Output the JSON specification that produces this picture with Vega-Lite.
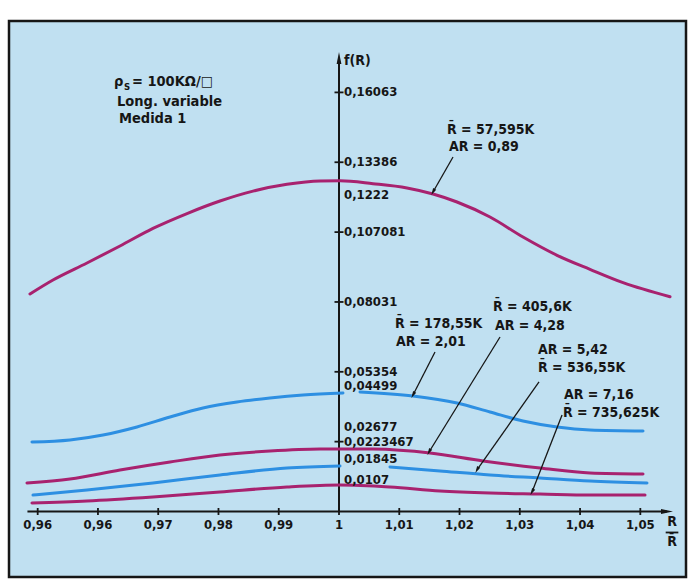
{
  "$schema": "https://vega.github.io/schema/vega-lite/v6.json",
  "width": 677,
  "height": 556,
  "autosize": {"type": "none"},
  "padding": {"left": 9, "top": 21, "right": 5, "bottom": 8},
  "background": "#ffffff",
  "config": {
    "view": {"fill": "#c0e0f1", "stroke": "#161616", "strokeWidth": 2.5},
    "text": {"font": "DejaVu Sans Condensed", "fontWeight": "bold", "fontSize": 13, "color": "#161616", "baseline": "middle"}
  },
  "datasets": {
    "curves": [
      {"s": "c1", "g": "c1", "x": 0.94872, "y": 0.08337},
      {"s": "c1", "g": "c1", "x": 0.95254, "y": 0.08873},
      {"s": "c1", "g": "c1", "x": 0.95818, "y": 0.09525},
      {"s": "c1", "g": "c1", "x": 0.96366, "y": 0.10176},
      {"s": "c1", "g": "c1", "x": 0.96913, "y": 0.1085},
      {"s": "c1", "g": "c1", "x": 0.97478, "y": 0.1142},
      {"s": "c1", "g": "c1", "x": 0.98025, "y": 0.119},
      {"s": "c1", "g": "c1", "x": 0.98573, "y": 0.1228},
      {"s": "c1", "g": "c1", "x": 0.99137, "y": 0.1254},
      {"s": "c1", "g": "c1", "x": 0.99685, "y": 0.12668},
      {"s": "c1", "g": "c1", "x": 1.00017, "y": 0.12675},
      {"s": "c1", "g": "c1", "x": 1.00564, "y": 0.12563},
      {"s": "c1", "g": "c1", "x": 1.01128, "y": 0.12399},
      {"s": "c1", "g": "c1", "x": 1.0156, "y": 0.12169},
      {"s": "c1", "g": "c1", "x": 1.01958, "y": 0.11863},
      {"s": "c1", "g": "c1", "x": 1.02506, "y": 0.11288},
      {"s": "c1", "g": "c1", "x": 1.03053, "y": 0.10521},
      {"s": "c1", "g": "c1", "x": 1.03618, "y": 0.0982},
      {"s": "c1", "g": "c1", "x": 1.04165, "y": 0.0928},
      {"s": "c1", "g": "c1", "x": 1.04713, "y": 0.0877},
      {"s": "c1", "g": "c1", "x": 1.05493, "y": 0.0823},
      {"s": "c2", "g": "c2a", "x": 0.94905, "y": 0.02664},
      {"s": "c2", "g": "c2a", "x": 0.95536, "y": 0.02741},
      {"s": "c2", "g": "c2a", "x": 0.96084, "y": 0.02932},
      {"s": "c2", "g": "c2a", "x": 0.96648, "y": 0.03239},
      {"s": "c2", "g": "c2a", "x": 0.97196, "y": 0.03622},
      {"s": "c2", "g": "c2a", "x": 0.97743, "y": 0.03967},
      {"s": "c2", "g": "c2a", "x": 0.98307, "y": 0.04197},
      {"s": "c2", "g": "c2a", "x": 0.98855, "y": 0.0435},
      {"s": "c2", "g": "c2a", "x": 0.99403, "y": 0.04465},
      {"s": "c2", "g": "c2a", "x": 1.00066, "y": 0.04542},
      {"s": "c2", "g": "c2b", "x": 1.00348, "y": 0.0458},
      {"s": "c2", "g": "c2b", "x": 1.01228, "y": 0.04427},
      {"s": "c2", "g": "c2b", "x": 1.01958, "y": 0.04159},
      {"s": "c2", "g": "c2b", "x": 1.02506, "y": 0.03814},
      {"s": "c2", "g": "c2b", "x": 1.03053, "y": 0.03469},
      {"s": "c2", "g": "c2b", "x": 1.03618, "y": 0.03239},
      {"s": "c2", "g": "c2b", "x": 1.04165, "y": 0.03124},
      {"s": "c2", "g": "c2b", "x": 1.05045, "y": 0.03086},
      {"s": "c3", "g": "c3", "x": 0.94822, "y": 0.01092},
      {"s": "c3", "g": "c3", "x": 0.95536, "y": 0.01246},
      {"s": "c3", "g": "c3", "x": 0.96366, "y": 0.01591},
      {"s": "c3", "g": "c3", "x": 0.97196, "y": 0.01897},
      {"s": "c3", "g": "c3", "x": 0.98025, "y": 0.02166},
      {"s": "c3", "g": "c3", "x": 0.98855, "y": 0.02319},
      {"s": "c3", "g": "c3", "x": 0.99685, "y": 0.02396},
      {"s": "c3", "g": "c3", "x": 1.00183, "y": 0.02398},
      {"s": "c3", "g": "c3", "x": 1.00564, "y": 0.02392},
      {"s": "c3", "g": "c3", "x": 1.0151, "y": 0.02242},
      {"s": "c3", "g": "c3", "x": 1.0239, "y": 0.01936},
      {"s": "c3", "g": "c3", "x": 1.03336, "y": 0.01667},
      {"s": "c3", "g": "c3", "x": 1.04165, "y": 0.01476},
      {"s": "c3", "g": "c3", "x": 1.05045, "y": 0.01437},
      {"s": "c4", "g": "c4a", "x": 0.94922, "y": 0.00632},
      {"s": "c4", "g": "c4a", "x": 0.95818, "y": 0.00824},
      {"s": "c4", "g": "c4a", "x": 0.96913, "y": 0.01092},
      {"s": "c4", "g": "c4a", "x": 0.98025, "y": 0.01399},
      {"s": "c4", "g": "c4a", "x": 0.99137, "y": 0.01667},
      {"s": "c4", "g": "c4a", "x": 1.00017, "y": 0.01744},
      {"s": "c4", "g": "c4b", "x": 1.00846, "y": 0.01706},
      {"s": "c4", "g": "c4b", "x": 1.01676, "y": 0.01552},
      {"s": "c4", "g": "c4b", "x": 1.02506, "y": 0.01399},
      {"s": "c4", "g": "c4b", "x": 1.03336, "y": 0.01284},
      {"s": "c4", "g": "c4b", "x": 1.04165, "y": 0.01169},
      {"s": "c4", "g": "c4b", "x": 1.05111, "y": 0.01092},
      {"s": "c5", "g": "c5", "x": 0.94905, "y": 0.00326},
      {"s": "c5", "g": "c5", "x": 0.95818, "y": 0.00402},
      {"s": "c5", "g": "c5", "x": 0.96913, "y": 0.00556},
      {"s": "c5", "g": "c5", "x": 0.98025, "y": 0.00748},
      {"s": "c5", "g": "c5", "x": 0.99137, "y": 0.00939},
      {"s": "c5", "g": "c5", "x": 1.00017, "y": 0.01016},
      {"s": "c5", "g": "c5", "x": 1.00846, "y": 0.00939},
      {"s": "c5", "g": "c5", "x": 1.01676, "y": 0.00786},
      {"s": "c5", "g": "c5", "x": 1.02506, "y": 0.00709},
      {"s": "c5", "g": "c5", "x": 1.03336, "y": 0.00671},
      {"s": "c5", "g": "c5", "x": 1.04165, "y": 0.00632},
      {"s": "c5", "g": "c5", "x": 1.05078, "y": 0.00632}
    ],
    "axes": [
      {"x": 0.9483, "y": 0, "x2": 1.0544, "y2": 0},
      {"x": 1, "y": 0, "x2": 1, "y2": 0.1738}
    ],
    "yticks": [
      {"x": 1, "y": 0.02677}, {"x": 1, "y": 0.05354}, {"x": 1, "y": 0.08031},
      {"x": 1, "y": 0.107081}, {"x": 1, "y": 0.13386}, {"x": 1, "y": 0.16063}
    ],
    "xticks": [
      {"x": 0.95, "y": 0, "t": "0,96"}, {"x": 0.96, "y": 0, "t": "0,96"},
      {"x": 0.97, "y": 0, "t": "0,97"}, {"x": 0.98, "y": 0, "t": "0,98"},
      {"x": 0.99, "y": 0, "t": "0,99"}, {"x": 1.0, "y": 0, "t": "1"},
      {"x": 1.01, "y": 0, "t": "1,01"}, {"x": 1.02, "y": 0, "t": "1,02"},
      {"x": 1.03, "y": 0, "t": "1,03"}, {"x": 1.04, "y": 0, "t": "1,04"},
      {"x": 1.05, "y": 0, "t": "1,05"}
    ],
    "ylabels": [
      {"x": 1, "y": 0.16063, "t": "0,16063"},
      {"x": 1, "y": 0.13386, "t": "0,13386"},
      {"x": 1, "y": 0.12131, "t": "0,1222"},
      {"x": 1, "y": 0.107081, "t": "0,107081"},
      {"x": 1, "y": 0.08031, "t": "0,08031"},
      {"x": 1, "y": 0.05354, "t": "0,05354"},
      {"x": 1, "y": 0.0481, "t": "0,04499"},
      {"x": 1, "y": 0.03239, "t": "0,02677"},
      {"x": 1, "y": 0.02664, "t": "0,0223467"},
      {"x": 1, "y": 0.02012, "t": "0,01845"},
      {"x": 1, "y": 0.01207, "t": "0,0107"}
    ],
    "notes": [
      {"x": 1.01792, "y": 0.14622, "t": "R\u0304 = 57,595K"},
      {"x": 1.01825, "y": 0.13971, "t": "AR = 0,89"},
      {"x": 1.00929, "y": 0.07187, "t": "R\u0304 = 178,55K"},
      {"x": 1.00946, "y": 0.06497, "t": "AR = 2,01"},
      {"x": 1.02556, "y": 0.07838, "t": "R\u0304 = 405,6K"},
      {"x": 1.02589, "y": 0.0711, "t": "AR = 4,28"},
      {"x": 1.03302, "y": 0.0619, "t": "AR = 5,42"},
      {"x": 1.03302, "y": 0.055, "t": "R\u0304 = 536,55K"},
      {"x": 1.03734, "y": 0.04465, "t": "AR = 7,16"},
      {"x": 1.03717, "y": 0.03775, "t": "R\u0304 = 735,625K"}
    ],
    "leaders": [
      {"x": 1.01892, "y": 0.13588, "x2": 1.0156, "y2": 0.12246},
      {"x": 1.01593, "y": 0.06114, "x2": 1.01228, "y2": 0.04465},
      {"x": 1.02672, "y": 0.06688, "x2": 1.01494, "y2": 0.02281},
      {"x": 1.03319, "y": 0.04964, "x2": 1.0229, "y2": 0.01591},
      {"x": 1.03701, "y": 0.03699, "x2": 1.03203, "y2": 0.00747}
    ],
    "legendtext": [
      {"x": 0.96266, "y": 0.16462, "t": "\u03c1"},
      {"x": 0.96565, "y": 0.16462, "t": "= 100K\u03a9/\u25a1"},
      {"x": 0.96316, "y": 0.15678, "t": "Long.  variable"},
      {"x": 0.96349, "y": 0.15025, "t": "Medida  1"}
    ]
  },
  "encoding": {
    "x": {"field": "x", "type": "quantitative", "scale": {"domain": [0.94524, 1.05758], "nice": false, "zero": false}, "axis": null},
    "y": {"field": "y", "type": "quantitative", "scale": {"domain": [-0.02511, 0.188], "nice": false, "zero": false}, "axis": null}
  },
  "layer": [
    {
      "data": {"name": "axes"},
      "mark": {"type": "rule", "color": "#161616", "strokeWidth": 2},
      "encoding": {"x2": {"field": "x2"}, "y2": {"field": "y2"}}
    },
    {
      "data": {"values": [{"x": 1, "y": 0.17382}]},
      "mark": {"type": "point", "shape": "M0,-1L0.4,1L-0.4,1Z", "size": 144, "filled": true, "color": "#161616", "opacity": 1}
    },
    {
      "data": {"values": [{"x": 1.05443, "y": 0}]},
      "mark": {"type": "point", "shape": "M1,0L-1,0.4L-1,-0.4Z", "size": 144, "filled": true, "color": "#161616", "opacity": 1}
    },
    {
      "data": {"name": "yticks"},
      "mark": {"type": "point", "shape": "M-1,0L1,0", "size": 81, "filled": false, "color": "#161616", "strokeWidth": 1.8, "opacity": 1}
    },
    {
      "data": {"name": "xticks"},
      "mark": {"type": "point", "shape": "M0,-1L0,1", "size": 49, "filled": false, "color": "#161616", "strokeWidth": 1.8, "opacity": 1}
    },
    {
      "data": {"name": "curves"},
      "mark": {"type": "line", "strokeWidth": 3, "interpolate": "monotone", "strokeCap": "round"},
      "encoding": {
        "color": {"field": "s", "type": "nominal", "scale": {"domain": ["c1", "c2", "c3", "c4", "c5"], "range": ["#a8226f", "#2d8fe2", "#a8226f", "#2d8fe2", "#a8226f"]}, "legend": null},
        "detail": {"field": "g"}
      }
    },
    {
      "data": {"name": "leaders"},
      "mark": {"type": "rule", "color": "#161616", "strokeWidth": 1.3},
      "encoding": {"x2": {"field": "x2"}, "y2": {"field": "y2"}}
    },
    {
      "data": {"name": "leaders"},
      "mark": {"type": "point", "shape": "M0,-1L0.5,1L-0.5,1Z", "size": 49, "filled": true, "color": "#161616", "opacity": 1, "angle": 208},
      "encoding": {
        "x": {"field": "x2", "type": "quantitative", "scale": {"domain": [0.94524, 1.05758], "nice": false, "zero": false}, "axis": null},
        "y": {"field": "y2", "type": "quantitative", "scale": {"domain": [-0.02511, 0.188], "nice": false, "zero": false}, "axis": null}
      }
    },
    {
      "data": {"name": "ylabels"},
      "mark": {"type": "text", "align": "left", "dx": 5},
      "encoding": {"text": {"field": "t"}}
    },
    {
      "data": {"name": "xticks"},
      "mark": {"type": "text", "align": "center", "dy": 14},
      "encoding": {"text": {"field": "t"}}
    },
    {
      "data": {"name": "notes"},
      "mark": {"type": "text", "align": "left", "fontSize": 14},
      "encoding": {"text": {"field": "t"}}
    },
    {
      "data": {"name": "legendtext"},
      "mark": {"type": "text", "align": "left", "fontSize": 14.5},
      "encoding": {"text": {"field": "t"}}
    },
    {
      "data": {"values": [{"x": 0.96432, "y": 0.16252, "t": "S"}]},
      "mark": {"type": "text", "align": "left", "fontSize": 9.5},
      "encoding": {"text": {"field": "t"}}
    },
    {
      "data": {"values": [{"x": 1, "y": 0.17267, "t": "f(R)"}]},
      "mark": {"type": "text", "align": "left", "dx": 5, "fontSize": 14},
      "encoding": {"text": {"field": "t"}}
    },
    {
      "data": {"values": [{"x": 1.05526, "y": 0, "t": "R"}]},
      "mark": {"type": "text", "align": "center", "dy": 11, "fontSize": 14},
      "encoding": {"text": {"field": "t"}}
    },
    {
      "data": {"values": [{"x": 1.05526, "y": 0, "t": "R\u0304"}]},
      "mark": {"type": "text", "align": "center", "dy": 31, "fontSize": 14},
      "encoding": {"text": {"field": "t"}}
    },
    {
      "data": {"values": [{"x": 1.05421, "y": 0, "x2": 1.05631, "y2": 0}]},
      "mark": {"type": "rule", "color": "#161616", "strokeWidth": 1.8, "yOffset": 21, "y2Offset": 21},
      "encoding": {"x2": {"field": "x2"}, "y2": {"field": "y2"}}
    }
  ]
}
